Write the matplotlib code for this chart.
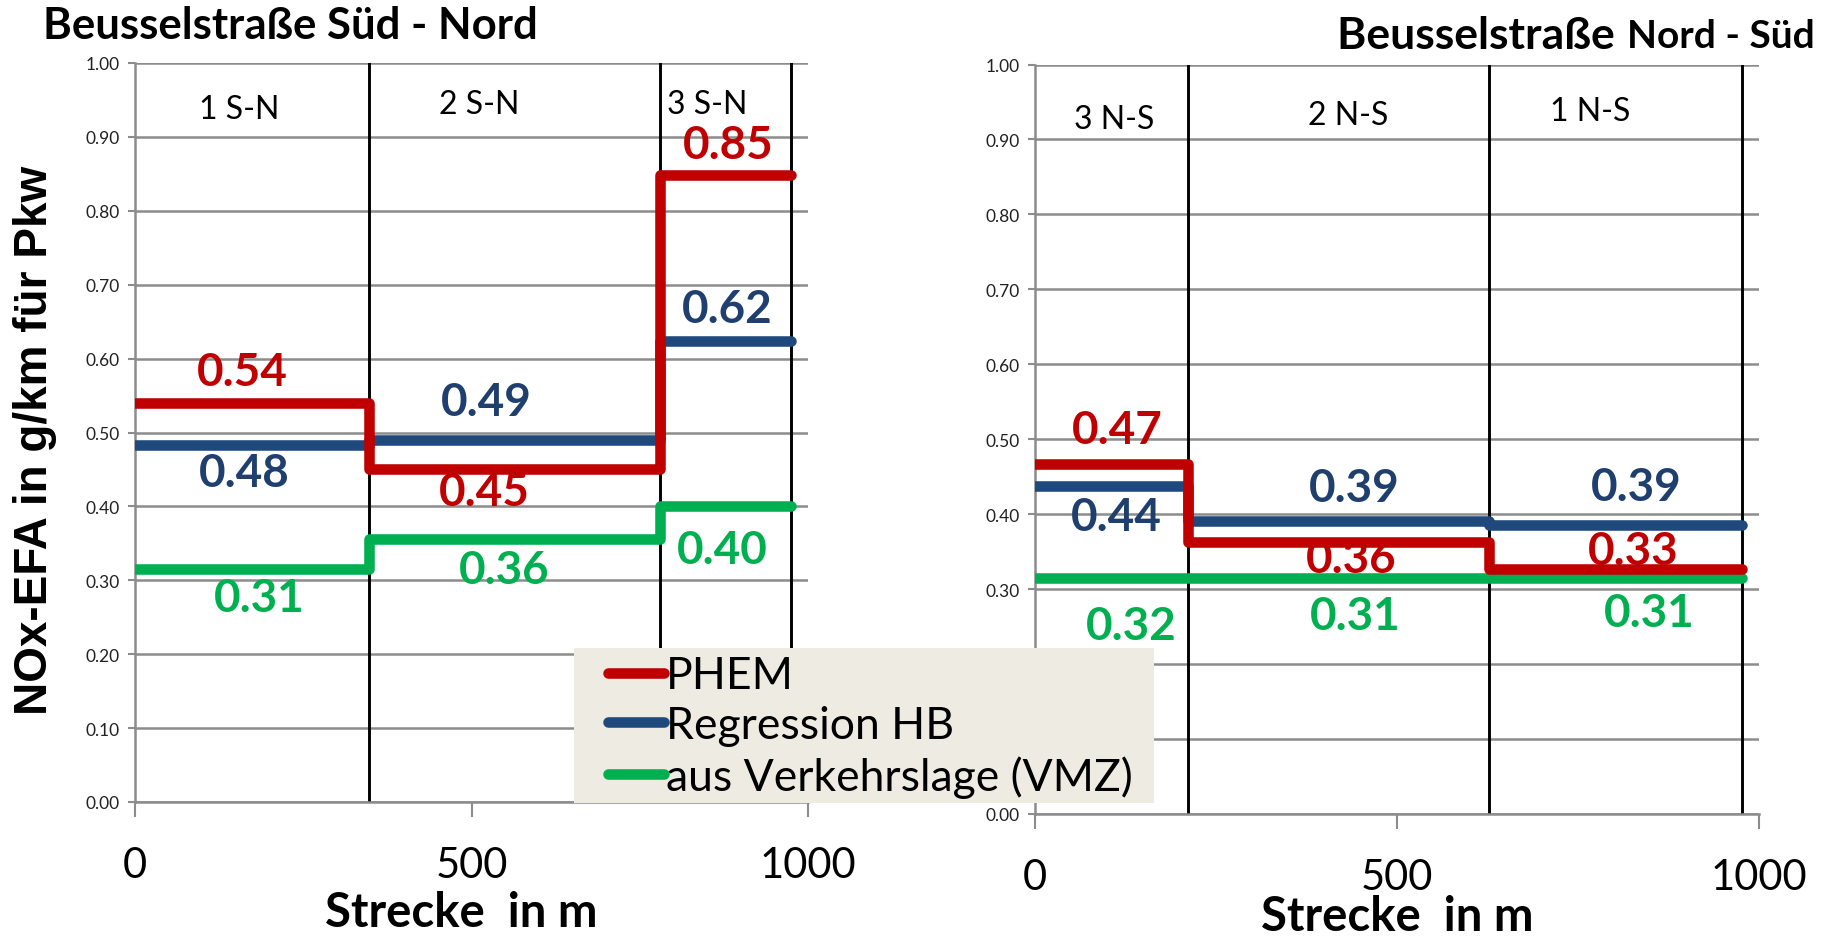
import matplotlib
matplotlib.use("Agg")
import matplotlib.pyplot as plt
from matplotlib.lines import Line2D
from matplotlib.patches import Rectangle

plt.rcParams['font.family'] = ['Lato', 'DejaVu Sans']

# ---------------- data ----------------
series_names = ["PHEM", "Regression HB", "aus Verkehrslage (VMZ)"]

left_edges = [0, 348, 780, 975]
left_sections = ["1 S-N", "2 S-N", "3 S-N"]
left_phem = [0.54, 0.45, 0.848]
left_reg = [0.483, 0.490, 0.624]
left_vmz = [0.315, 0.356, 0.400]
left_phem_lbl = ["0.54", "0.45", "0.85"]
left_reg_lbl = ["0.48", "0.49", "0.62"]
left_vmz_lbl = ["0.31", "0.36", "0.40"]

right_edges = [0, 211, 627, 976]
right_sections = ["3 N-S", "2 N-S", "1 N-S"]
right_phem = [0.467, 0.363, 0.327]
right_reg = [0.438, 0.391, 0.386]
right_vmz = [0.315, 0.315, 0.315]
right_phem_lbl = ["0.47", "0.36", "0.33"]
right_reg_lbl = ["0.44", "0.39", "0.39"]
right_vmz_lbl = ["0.32", "0.31", "0.31"]

x_ticks = [0, 500, 1000]
y_ticks = [0.0, 0.1, 0.2, 0.3, 0.4, 0.5, 0.6, 0.7, 0.8, 0.9, 1.0]

# label positions (data coords)
left_phem_pos = [(160, 0.582), (519, 0.419), (881, 0.889)]
left_reg_pos = [(163, 0.445), (522, 0.541), (880, 0.667)]
left_vmz_pos = [(184, 0.276), (548, 0.314), (872, 0.341)]
left_sec_pos = [(155, 0.938), (512, 0.945), (850, 0.945)]

right_phem_pos = [(113, 0.512), (437, 0.340), (826, 0.351)]
right_reg_pos = [(113, 0.396), (441, 0.435), (830, 0.436)]
right_vmz_pos = [(133, 0.251), (442, 0.264), (848, 0.268)]
right_sec_pos = [(110, 0.927), (432, 0.932), (767, 0.938)]

# ---------------- style ----------------
RED = "#C00000"
BLUE = "#1F497D"
BLUE_TXT = "#1F3F6E"
GREEN = "#00B050"
GRID = "#8C8C8C"
LW = 7.6

fig = plt.figure(figsize=(18.3, 9.37), dpi=100)

axL = fig.add_axes([135/1830, (937-803)/937, (808-135)/1830, (803-64)/937])
axR = fig.add_axes([1035/1830, (937-815)/937, (1759-1035)/1830, (815-65.5)/937])


def draw(ax, edges, sections, sec_pos, phem, reg, vmz, lbls, poss):
    ax.set_xlim(0, 1000)
    ax.set_ylim(0, 1.0)
    for s in ['top', 'right']:
        ax.spines[s].set_visible(False)
    for s in ['left', 'bottom']:
        ax.spines[s].set_color(GRID)
        ax.spines[s].set_linewidth(1.8)
    ax.set_yticks(y_ticks)
    ax.set_yticklabels([f"{v:.2f}" for v in y_ticks])
    ax.set_xticks(x_ticks)
    ax.set_xticklabels([str(v) for v in x_ticks])
    ax.tick_params(axis='y', length=5, width=1.5, color=GRID, labelsize=12.5, pad=6, labelcolor="#222222")
    ax.tick_params(axis='x', length=11, width=1.5, color=GRID, labelsize=30, pad=21)
    ax.grid(axis='y', color=GRID, lw=1.8)
    ax.set_axisbelow(True)
    for e in edges[1:]:
        ax.axvline(e, color='black', lw=2.1, zorder=2)
    for (x, y), t in zip(sec_pos, sections):
        ax.text(x, y, t, fontsize=23, ha='center', va='center', color='black')
    for vals, col in zip([vmz, reg, phem], [GREEN, BLUE, RED]):
        ax.step(edges, list(vals) + [vals[-1]], where='post', color=col, lw=LW,
                solid_capstyle='round', solid_joinstyle='round', zorder=3)
    for lb, ps, col in zip(lbls, poss, [RED, BLUE_TXT, GREEN]):
        for t, (x, y) in zip(lb, ps):
            ax.text(x, y, t, fontsize=33, fontweight='bold', color=col,
                    ha='center', va='center', zorder=4)


draw(axL, left_edges, left_sections, left_sec_pos, left_phem, left_reg, left_vmz,
     [left_phem_lbl, left_reg_lbl, left_vmz_lbl], [left_phem_pos, left_reg_pos, left_vmz_pos])
draw(axR, right_edges, right_sections, right_sec_pos, right_phem, right_reg, right_vmz,
     [right_phem_lbl, right_reg_lbl, right_vmz_lbl], [right_phem_pos, right_reg_pos, right_vmz_pos])

fig.text(461/1830, 1-913/937, "Strecke  in m", fontsize=34, fontweight='bold',
         ha='center', va='center')
fig.text(1397/1830, 1-917/937, "Strecke  in m", fontsize=34, fontweight='bold',
         ha='center', va='center')

fig.text(35/1830, 1-440/937, "NOx-EFA in g/km für Pkw", rotation=90, fontsize=33,
         fontweight='bold', family='Liberation Sans', ha='center', va='center')

fig.text(43/1830, 1-26/937, "Beusselstraße Süd - Nord", fontsize=31.5, fontweight='bold',
         ha='left', va='center')

# right title: larger street name, slightly smaller direction
t2 = fig.text(1815/1830, 1-37/937, "Nord - Süd", fontsize=28, fontweight='bold',
              ha='right', va='center')
fig.canvas.draw()
bb = t2.get_window_extent()
fig.text((bb.x0 - 2)/1830, 1-36/937, "Beusselstraße ", fontsize=32, fontweight='bold',
         ha='right', va='center')

# legend box
fig.patches.append(Rectangle((574/1830, 1-804/937), (1154-574)/1830, (804-649)/937,
                             transform=fig.transFigure, facecolor="#EEECE2",
                             edgecolor='none', zorder=5))
handles = [Line2D([], [], color=c, lw=LW, solid_capstyle='round') for c in [RED, BLUE, GREEN]]
leg = fig.legend(handles, series_names, loc='upper left',
                 bbox_to_anchor=(577/1830, 1-625/937), frameon=False, fontsize=32,
                 handlelength=1.25, handletextpad=0.05, labelspacing=0.2, borderpad=0.2)
leg.set_zorder(6)

fig.savefig("out.png", dpi=100)
